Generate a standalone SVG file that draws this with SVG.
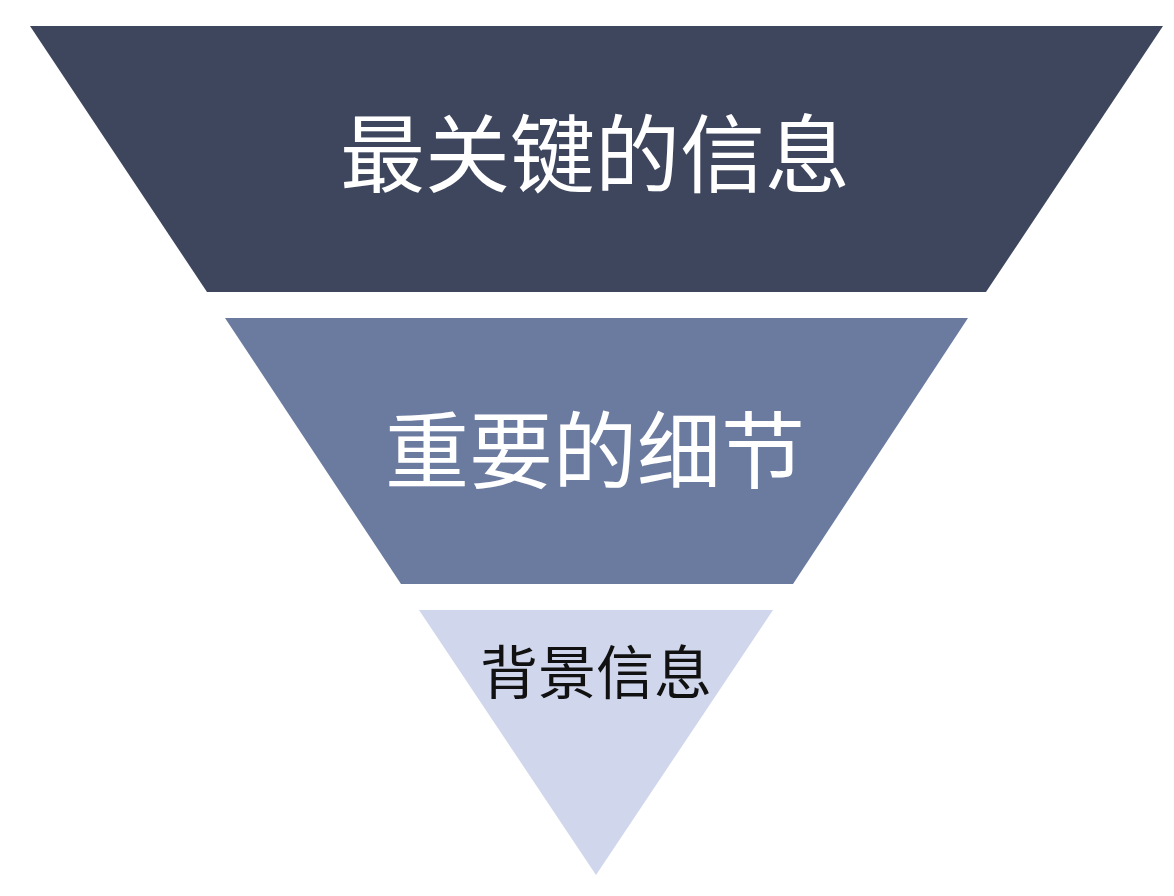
<svg xmlns="http://www.w3.org/2000/svg" width="1174" height="896" viewBox="0 0 1174 896">
<style>
.lbl{font-family:"Noto Sans CJK SC","Noto Sans",sans-serif;text-anchor:middle;dominant-baseline:central;}
.w{fill:#ffffff;}
.k{fill:#111111;}
</style>
<rect width="1174" height="896" fill="#ffffff"/>
<g id="top">
<polygon points="30,26 1163,26 986,292 207,292" fill="#3e465e"/>
<text class="lbl w" x="595" y="148" font-size="85">最关键的信息</text>
</g>
<g id="middle">
<polygon points="225,318 968,318 793,584 401,584" fill="#6b7a9f"/>
<text class="lbl w" x="595" y="445" font-size="84">重要的细节</text>
</g>
<g id="bottom">
<polygon points="419,610 773,610 596,875" fill="#d0d7ed"/>
<text class="lbl k" x="596" y="669" font-size="58">背景信息</text>
</g>
<g id="connectors"></g>
</svg>
